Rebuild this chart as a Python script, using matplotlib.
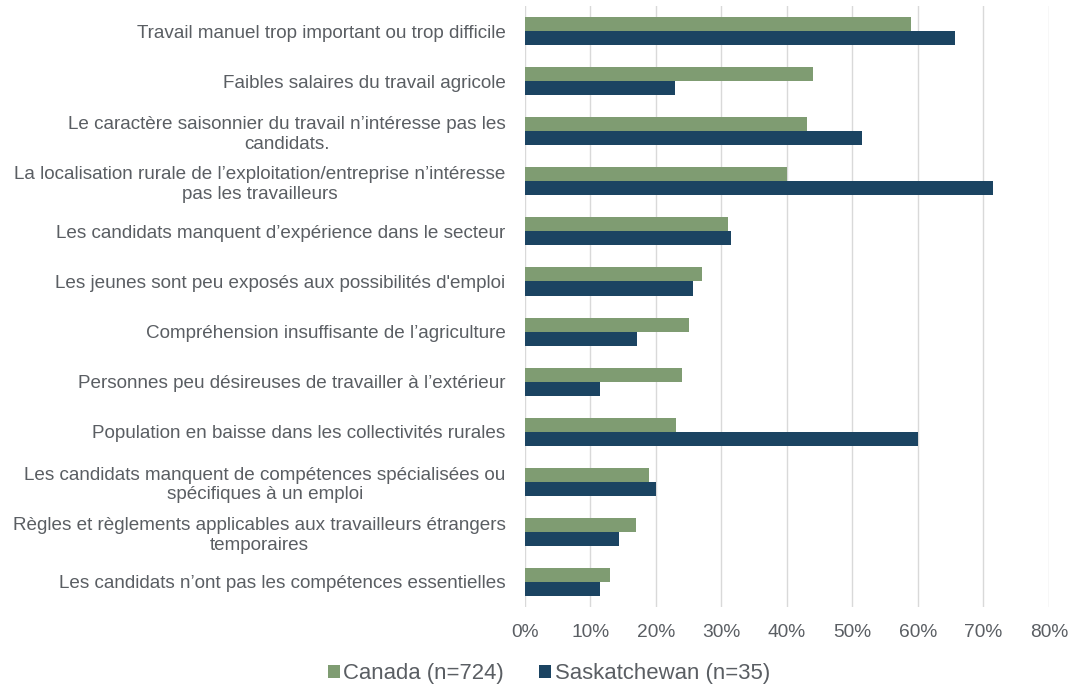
import matplotlib.pyplot as plt
import numpy as np
from matplotlib.ticker import PercentFormatter

# categories, top to bottom as in the chart
categories = [
    "Travail manuel trop important ou trop difficile",
    "Faibles salaires du travail agricole",
    "Le caractère saisonnier du travail n’intéresse pas les\ncandidats.",
    "La localisation rurale de l’exploitation/entreprise n’intéresse\npas les travailleurs",
    "Les candidats manquent d’expérience dans le secteur",
    "Les jeunes sont peu exposés aux possibilités d'emploi",
    "Compréhension insuffisante de l’agriculture",
    "Personnes peu désireuses de travailler à l’extérieur",
    "Population en baisse dans les collectivités rurales",
    "Les candidats manquent de compétences spécialisées ou\nspécifiques à un emploi",
    "Règles et règlements applicables aux travailleurs étrangers\ntemporaires",
    "Les candidats n’ont pas les compétences essentielles",
]
canada = [0.59, 0.44, 0.43, 0.40, 0.31, 0.27, 0.25, 0.24, 0.23, 0.19, 0.17, 0.13]
saskatchewan = [0.657, 0.229, 0.514, 0.714, 0.314, 0.257, 0.171, 0.114, 0.60, 0.20, 0.143, 0.114]
series_names = ["Canada (n=724)", "Saskatchewan (n=35)"]

green = "#7F9C72"
navy = "#1B4462"
text_col = "#5A5E63"

plt.rcParams["font.family"] = ["Liberation Sans", "DejaVu Sans"]

fig = plt.figure(figsize=(10.72, 6.88), dpi=100)
ax = fig.add_axes([0.4897, 0.1177, 0.4888, 0.8735])

y = np.arange(len(categories))
h = 0.28
ax.barh(y - h / 2, canada, height=h, color=green, label=series_names[0], zorder=3)
ax.barh(y + h / 2, saskatchewan, height=h, color=navy, label=series_names[1], zorder=3)

ax.set_ylim(len(categories) - 0.5, -0.5)
ax.set_yticks(y)
ax.set_yticklabels(categories, fontsize=13.6, color=text_col, ha="right",
                   multialignment="center", linespacing=1.2)
ax.set_xlim(0, 0.8)
ax.set_xticks(np.arange(0, 0.81, 0.1))
ax.xaxis.set_major_formatter(PercentFormatter(1.0, decimals=0))
ax.tick_params(axis="x", labelsize=13.8, colors=text_col, length=0, pad=12)
ax.tick_params(axis="y", length=0, pad=14)
ax.grid(axis="x", color="#D9D9D9", linewidth=1, zorder=0)
for s in ax.spines.values():
    s.set_visible(False)

fig.legend(loc="center", bbox_to_anchor=(0.512, 0.021), ncol=2, frameon=False,
           fontsize=15.9, labelcolor=text_col, handlelength=0.55, handleheight=0.55,
           handletextpad=0.15, columnspacing=1.6, borderaxespad=0, borderpad=0)

fig.savefig("out.png", dpi=100)
